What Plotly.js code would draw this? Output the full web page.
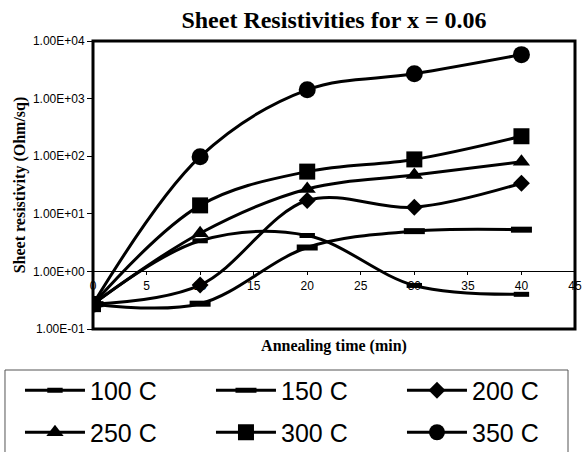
<!DOCTYPE html>
<html>
<head>
<meta charset="utf-8">
<script src="https://cdn.plot.ly/plotly-3.0.1.min.js"></script>
<style>html,body{margin:0;padding:0;background:#fff;}#chart{width:582px;height:452px;}</style>
</head>
<body>
<div id="chart"></div>
<script>
// Annealing time (min)
var time = [0, 10, 20, 30, 40];
// Sheet resistivity (Ohm/sq) per annealing temperature
var r100 = [0.27, 3.4, 4.2, 0.57, 0.40];
var r150 = [0.27, 0.275, 2.6, 5.0, 5.3];
var r200 = [0.27, 0.58, 17, 13, 34];
var r250 = [0.27, 4.6, 27, 47, 80];
var r300 = [0.27, 14, 54, 88, 222];
var r350 = [0.27, 98, 1420, 2700, 5800];
var seriesNames = ['100 C', '150 C', '200 C', '250 C', '300 C', '350 C'];
var xTickVals = [0, 5, 10, 15, 20, 25, 30, 35, 40, 45];
var yTickVals = [0.1, 1, 10, 100, 1000, 10000];
var yTickText = ['1.00E-01', '1.00E+00', '1.00E+01', '1.00E+02', '1.00E+03', '1.00E+04'];

var seriesData = [r100, r150, r200, r250, r300, r350];
var markers = [
  {symbol: 'line-ew', size: 11, line: {width: 5, color: '#000'}, color: '#000'},
  {symbol: 'line-ew', size: 15, line: {width: 6, color: '#000'}, color: '#000'},
  {symbol: 'diamond', size: 13, color: '#000', line: {width: 0}},
  {symbol: 'triangle-up', size: 15, color: '#000', line: {width: 0}},
  {symbol: 'square', size: 16, color: '#000', line: {width: 0}},
  {symbol: 'circle', size: 17, color: '#000', line: {width: 0}}
];

var traces = seriesData.map(function (vals, i) {
  return {
    x: time,
    y: vals,
    name: seriesNames[i],
    type: 'scatter',
    mode: 'lines+markers',
    line: {color: '#000', width: 3, shape: 'spline', smoothing: 1},
    marker: markers[i],
    legend: i < 3 ? 'legend' : 'legend2'
  };
});

var sans = 'Liberation Sans, Arial, sans-serif';
var serif = 'Liberation Serif, Times New Roman, serif';

function legendAt(yPaper) {
  return {
    orientation: 'h',
    x: -0.1515, xanchor: 'left',
    y: yPaper, yanchor: 'top',
    entrywidth: 116, entrywidthmode: 'pixels',
    itemwidth: 60,
    borderwidth: 0,
    bgcolor: 'rgba(255,255,255,0)',
    font: {family: sans, size: 25, color: '#000'},
    traceorder: 'normal'
  };
}

var layout = {
  width: 582,
  height: 452,
  margin: {l: 93, r: 7, t: 41, b: 123, autoexpand: false},
  paper_bgcolor: '#fff',
  plot_bgcolor: '#fff',
  showlegend: true,
  title: {
    text: '<b>Sheet Resistivities for x = 0.06</b>',
    font: {family: serif, size: 24, color: '#000'},
    x: 0.5, xref: 'paper', xanchor: 'center',
    y: 0.956, yref: 'container', yanchor: 'middle'
  },
  xaxis: {
    range: [0, 45],
    tickvals: xTickVals,
    ticks: 'outside', ticklen: 3, tickwidth: 1, tickcolor: '#000',
    showline: true, linecolor: '#000', linewidth: 1,
    showgrid: false, zeroline: false,
    anchor: 'free', position: 0.2,
    layer: 'below traces',
    tickfont: {family: sans, size: 12, color: '#000'},
    title: {text: '<b>Annealing time (min)</b>', font: {family: serif, size: 16, color: '#000'}, standoff: 48}
  },
  yaxis: {
    type: 'log',
    range: [-1, 4],
    tickvals: yTickVals,
    ticktext: yTickText,
    ticks: 'outside', ticklen: 5, tickwidth: 1, tickcolor: '#000',
    showline: false,
    showgrid: false, zeroline: false,
    tickfont: {family: sans, size: 12, color: '#000'},
    title: {text: '<b>Sheet resistivity (Ohm/sq)</b>', font: {family: serif, size: 16, color: '#000'}, standoff: 3}
  },
  shapes: [
    {
      type: 'rect', xref: 'paper', yref: 'paper', x0: 0, x1: 1, y0: 0, y1: 1,
      line: {color: '#000', width: 3}, fillcolor: 'rgba(0,0,0,0)', layer: 'above'
    },
    {
      type: 'rect', xref: 'paper', yref: 'paper', x0: -0.1826, x1: 0.9855, y0: -0.4375, y1: -0.1424,
      line: {color: '#555', width: 1}, fillcolor: 'rgba(0,0,0,0)', layer: 'above'
    }
  ],
  legend: legendAt(-0.1337),
  legend2: legendAt(-0.2796)
};

Plotly.newPlot('chart', traces, layout, {displayModeBar: false, staticPlot: true});
</script>
</body>
</html>
